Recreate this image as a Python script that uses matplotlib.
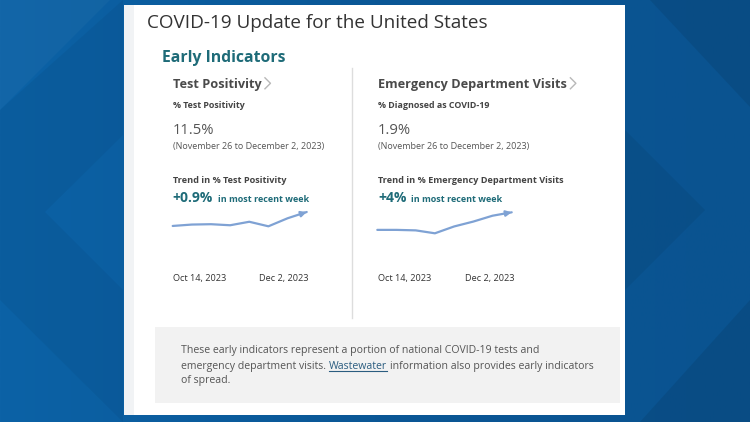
import numpy as np
import matplotlib.pyplot as plt
from matplotlib.patches import Rectangle, Polygon
from matplotlib.colors import LinearSegmentedColormap

plt.rcParams['font.family'] = ['Open Sans', 'DejaVu Sans']

W, H = 750, 422

# weekly values, Oct 14 to Dec 2, 2023
weeks = ['Oct 14', 'Oct 21', 'Oct 28', 'Nov 4', 'Nov 11', 'Nov 18', 'Nov 25', 'Dec 2']
test_pos = [9.5, 9.7, 9.75, 9.6, 10.1, 9.45, 10.6, 11.5]
ed_visits = [1.54, 1.54, 1.53, 1.47, 1.61, 1.71, 1.83, 1.90]

date_labels = ['Oct 14, 2023', 'Dec 2, 2023']
period = '(November 26 to December 2, 2023)'

TEAL = '#1e6b78'
DARK = '#444444'
SPARK = '#7fa2d4'

fig = plt.figure(figsize=(W / 100, H / 100), dpi=100)
ax = fig.add_axes([0, 0, 1, 1])
ax.set_xlim(0, W)
ax.set_ylim(H, 0)
ax.axis('off')

# blue background with a horizontal gradient
grad = np.linspace(0, 1, 256)[None, :]
bg_cmap = LinearSegmentedColormap.from_list('bg', ['#0c62a6', '#0a5796', '#0a5390'])
ax.imshow(grad, cmap=bg_cmap, extent=[0, W, H, 0], aspect='auto', zorder=0)

# faint chevron shapes in the background
shapes = [
    ([(0, 110), (110, 0), (0, 0)], 'white', 0.03),
    ([(0, 110), (123, 0), (123, 135), (45, 212), (123, 290), (123, 422), (0, 300)], 'black', 0.045),
    ([(650, 0), (750, 0), (750, 107)], 'black', 0.08),
    ([(625, 130), (705, 210), (625, 290)], 'black', 0.06),
    ([(750, 300), (750, 422), (640, 422)], 'black', 0.08),
]
for pts, col, a in shapes:
    ax.add_patch(Polygon(pts, closed=True, facecolor=col, alpha=a, edgecolor='none', zorder=1))

# white card
ax.add_patch(Rectangle((124, 5), 501, 410, facecolor='white', edgecolor='none', zorder=2))
ax.add_patch(Rectangle((124, 5), 10, 410, facecolor='#f1f3f5', edgecolor='none', zorder=2))

# gray note box
ax.add_patch(Rectangle((155, 327), 465, 76, facecolor='#f2f2f2', edgecolor='none', zorder=2))

# divider between the two columns
ax.plot([351.5, 351.5], [68, 318], color='#dddddd', lw=1, zorder=3)

ax.text(147, 28.5, 'COVID-19 Update for the United States', fontsize=13.6,
        color='#333333', va='baseline', zorder=4)
ax.text(162.5, 61.5, 'Early Indicators', fontsize=11.3, fontweight='bold',
        color=TEAL, va='baseline', zorder=4)


def chevron(x, y):
    ax.plot([x, x + 5.5, x], [y - 10.5, y - 5, y + 0.5], color='#b8b8b8', lw=1.0, zorder=4)


def right_of(t, gap):
    fig.canvas.draw()
    bb = t.get_window_extent()
    return bb.x1 + gap


def column(x0, title, sub, value, trend_title, change, series, box, date2_x):
    t = ax.text(x0, 88.3, title, fontsize=9.15, fontweight='bold', color='#4a4a4a',
                va='baseline', zorder=4)
    chevron(right_of(t, 3.5), 88.3)
    ax.text(x0, 108.3, sub, fontsize=6.4, fontweight='bold', color=DARK, va='baseline', zorder=4)
    ax.text(x0, 134.3, value, fontsize=10.7, color='#555555', va='baseline', zorder=4)
    ax.text(x0, 149.5, period, fontsize=6.5, color='#555555', va='baseline', zorder=4)
    ax.text(x0, 182.7, trend_title, fontsize=6.55, fontweight='bold', color=DARK, va='baseline', zorder=4)
    t = ax.text(x0, 201.7, change, fontsize=10, fontweight='bold', color=TEAL, va='baseline', zorder=4)
    ax.text(right_of(t, 5), 201.7, 'in most recent week', fontsize=6.5, fontweight='bold',
            color=TEAL, va='baseline', zorder=4)
    ax.text(x0, 281, date_labels[0], fontsize=6.6, color='#333333', va='baseline', zorder=4)
    ax.text(date2_x, 281, date_labels[1], fontsize=6.6, color='#333333', va='baseline', zorder=4)

    # sparkline in its own small axes
    left, right, top, bottom, lo, hi = box
    sax = fig.add_axes([left / W, 1 - bottom / H, (right - left) / W, (bottom - top) / H])
    sax.set_xlim(0, len(weeks) - 1)
    sax.set_ylim(lo, hi)
    sax.axis('off')
    xs = np.arange(len(series))
    sax.plot(xs, series, color=SPARK, lw=1.6, solid_joinstyle='round',
             solid_capstyle='round', clip_on=False)
    sax.annotate('', xy=(xs[-1], series[-1]),
                 xytext=(xs[-1] - 0.35, series[-1] - 0.35 * (series[-1] - series[-2])),
                 arrowprops=dict(arrowstyle='-|>', color=SPARK, lw=1.6, mutation_scale=8,
                                 shrinkA=0, shrinkB=0), annotation_clip=False)


column(172.7, 'Test Positivity', '% Test Positivity', '11.5%',
       'Trend in % Test Positivity', '+0.9%', test_pos,
       (172.7, 306.7, 212, 226.3, 9.45, 11.5), 259.3)
column(378, 'Emergency Department Visits', '% Diagnosed as COVID-19', '1.9%',
       'Trend in % Emergency Department Visits', '+4%', ed_visits,
       (377.3, 511.7, 212.3, 233.3, 1.47, 1.90), 465)

# note text
note_x = 180.7
LINK = '#2b5d80'
note_kw = dict(fontsize=7.55, color='#555555', va='baseline', zorder=4)
ax.text(note_x, 353.3, 'These early indicators represent a portion of national COVID-19 tests and', **note_kw)
t = ax.text(note_x, 369, 'emergency department visits.', **note_kw)
wx = right_of(t, 3.2)
link = ax.text(wx, 369, 'Wastewater', fontsize=7.55, color=LINK, va='baseline', zorder=4)
wx1 = right_of(link, 0)
ax.plot([wx, wx1], [371.3, 371.3], color=LINK, lw=0.8, zorder=4)
ax.text(wx1 + 3.2, 369, 'information also provides early indicators', **note_kw)
ax.text(note_x, 383.5, 'of spread.', **note_kw)

fig.savefig('out.png', dpi=100)
